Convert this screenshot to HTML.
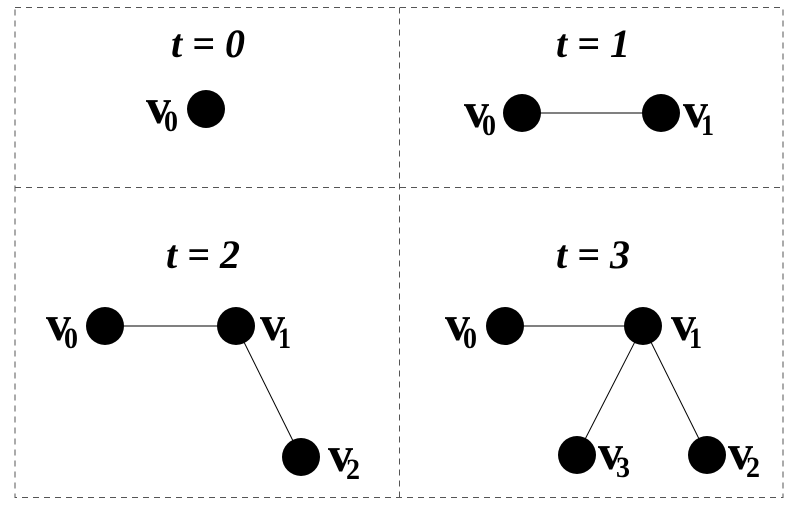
<!DOCTYPE html>
<html><head><style>body{margin:0;background:#fff}svg{display:block}
text{font-family:"Liberation Serif",serif;font-weight:bold}
.t{font-style:italic;font-size:40px}
.v{font-size:50px}.s{font-size:30px}
</style></head><body>
<svg width="800" height="511" viewBox="0 0 800 511">
<g stroke="#555" stroke-width="1" stroke-dasharray="6,5" fill="none">
<rect x="15" y="7.5" width="768" height="490"/>
<line x1="15" y1="187.5" x2="783" y2="187.5"/>
<line x1="399.5" y1="7.5" x2="399.5" y2="497.5"/>
</g>
<g text-anchor="middle">
<text class="t" x="208" y="57">t = 0</text>
<text class="t" x="593" y="57">t = 1</text>
<text class="t" x="203" y="268">t = 2</text>
<text class="t" x="593" y="268">t = 3</text>
</g>
<g stroke="#000" stroke-width="1">
<line x1="522" y1="113" x2="661" y2="113"/>
<line x1="105" y1="326" x2="236" y2="326"/>
<line x1="236" y1="326" x2="301" y2="457"/>
<line x1="505" y1="326" x2="643" y2="326"/>
<line x1="643" y1="326" x2="577" y2="455"/>
<line x1="643" y1="326" x2="707" y2="455"/>
</g>
<g fill="#000">
<circle cx="206" cy="109" r="19"/>
<circle cx="522" cy="113" r="19"/><circle cx="661" cy="113" r="19"/>
<circle cx="105" cy="326" r="19"/><circle cx="236" cy="326" r="19"/><circle cx="301" cy="457" r="19"/>
<circle cx="505" cy="326" r="19"/><circle cx="643" cy="326" r="19"/><circle cx="577" cy="455" r="19"/><circle cx="707" cy="455" r="19"/>
</g>
<g>
<text class="v" x="146" y="123">v</text><text class="s" x="164" y="131" textLength="14" lengthAdjust="spacingAndGlyphs">0</text>
<text class="v" x="464" y="127">v</text><text class="s" x="482" y="135" textLength="14" lengthAdjust="spacingAndGlyphs">0</text>
<text class="v" x="683" y="127">v</text><text class="s" x="701" y="135" textLength="13" lengthAdjust="spacingAndGlyphs">1</text>
<text class="v" x="46" y="340">v</text><text class="s" x="64" y="348" textLength="14" lengthAdjust="spacingAndGlyphs">0</text>
<text class="v" x="260" y="340">v</text><text class="s" x="278" y="348" textLength="13" lengthAdjust="spacingAndGlyphs">1</text>
<text class="v" x="328" y="471">v</text><text class="s" x="346" y="479" textLength="14" lengthAdjust="spacingAndGlyphs">2</text>
<text class="v" x="445" y="340">v</text><text class="s" x="463" y="348" textLength="14" lengthAdjust="spacingAndGlyphs">0</text>
<text class="v" x="671" y="340">v</text><text class="s" x="689" y="348" textLength="13" lengthAdjust="spacingAndGlyphs">1</text>
<text class="v" x="598" y="469">v</text><text class="s" x="616" y="477" textLength="14" lengthAdjust="spacingAndGlyphs">3</text>
<text class="v" x="728" y="469">v</text><text class="s" x="746" y="477" textLength="14" lengthAdjust="spacingAndGlyphs">2</text>
</g>
</svg>
</body></html>
